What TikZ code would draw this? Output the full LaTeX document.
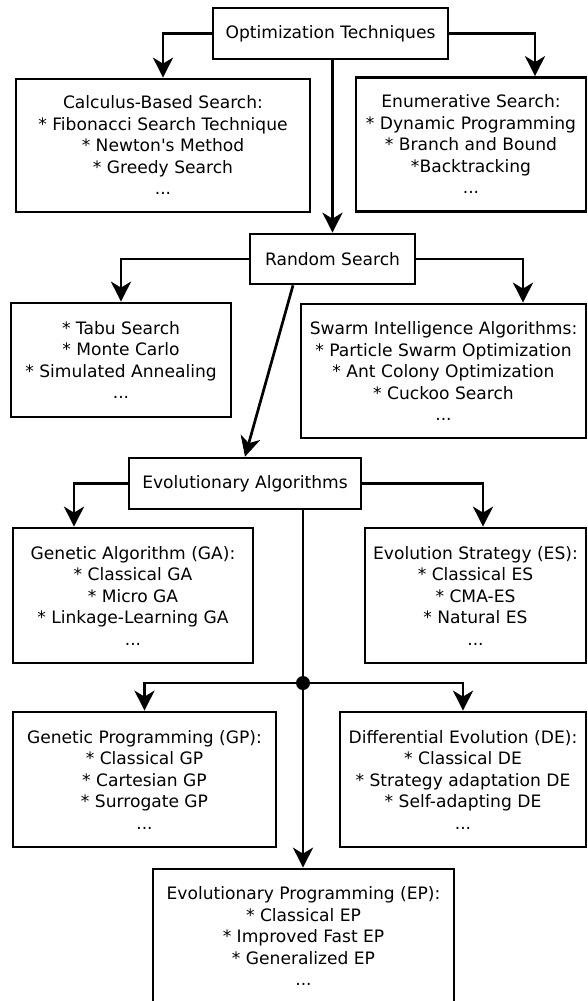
\documentclass[tikz,border=0pt]{standalone}
\usepackage{fontspec}
\setmainfont{DejaVu Sans}[Ligatures=TeXOff]
\usetikzlibrary{arrows.meta}
\begin{document}
\begin{tikzpicture}[x=1pt,y=-1pt]
	\tikzstyle{block node}=[draw,line width=2.7pt,inner sep=0,align=center,font=\fontsize{17.1}{21.5}\selectfont]
	\tikzstyle{dot node}=[circle,fill=black,inner sep=0,minimum size=14pt]
	\tikzset{
		link/.style={line width=2.7pt,-{Stealth[length=20pt,width=20pt,inset=6pt]}},
		joint/.style={line width=2.7pt}
	}
	\fill[white] (0,0) rectangle (587,1001);
	\useasboundingbox (0,0) rectangle (587,1001);
	% top level
	\node(opt)[block node,minimum width=235pt,minimum height=51pt] at (330.5,33.5)
		{Optimization Techniques};
	\node(calc)[block node,minimum width=294pt,minimum height=133pt] at (163,145.5)
		{Calculus-Based Search:\\* Fibonacci Search Technique\\* Newton's Method\\* Greedy Search\\...};
	\node(enum)[block node,minimum width=230pt,minimum height=134pt] at (471,144.5)
		{Enumerative Search:\\* Dynamic Programming\\* Branch and Bound\\*Backtracking\\...};
	% random search
	\node(rand)[block node,minimum width=165pt,minimum height=50pt] at (332.5,259)
		{Random Search};
	\node(tabu)[block node,minimum width=220pt,minimum height=114pt] at (121,360)
		{* Tabu Search\\* Monte Carlo\\* Simulated Annealing\\...};
	\node(swarm)[block node,minimum width=285pt,minimum height=134pt] at (443.5,371)
		{Swarm Intelligence Algorithms:\\* Particle Swarm Optimization\\* Ant Colony Optimization\\* Cuckoo Search\\...};
	% evolutionary algorithms
	\node(evo)[block node,minimum width=232pt,minimum height=51pt] at (245,483.5)
		{Evolutionary Algorithms};
	\node(ga)[block node,minimum width=240pt,minimum height=135pt] at (133,595.5)
		{Genetic Algorithm (GA):\\* Classical GA\\* Micro GA\\* Linkage-Learning GA\\...};
	\node(es)[block node,minimum width=221pt,minimum height=135pt] at (475.5,595.5)
		{Evolution Strategy (ES):\\* Classical ES\\* CMA-ES\\* Natural ES\\...};
	\node(fork)[dot node] at (303,683) {};
	\node(gp)[block node,minimum width=263pt,minimum height=135pt] at (144.5,779.5)
		{Genetic Programming (GP):\\* Classical GP\\* Cartesian GP\\* Surrogate GP\\...};
	\node(de)[block node,minimum width=246pt,minimum height=135pt] at (463,779.5)
		{Differential Evolution (DE):\\* Classical DE\\* Strategy adaptation DE\\* Self-adapting DE\\...};
	\node(ep)[block node,minimum width=301pt,minimum height=134pt] at (303.5,936)
		{Evolutionary Programming (EP):\\* Classical EP\\* Improved Fast EP\\* Generalized EP\\...};
	% connectors
	\draw[link] (opt.west) -| (calc.north);
	\draw[link] (opt.east) -| ([xshift=64pt]enum.north);
	\draw[link] (opt.south -| rand.north) -- (rand.north);
	\draw[link] (rand.west) -| (tabu.north);
	\draw[link] (rand.east) -| ([xshift=79.5pt]swarm.north);
	\draw[link] ([xshift=-39.5pt]rand.south) -- (evo.north);
	\draw[link] (evo.west) -| ([xshift=-59pt]ga.north);
	\draw[link] (evo.east) -| ([xshift=7.5pt]es.north);
	\draw[joint] (evo.south -| fork) -- (fork);
	\draw[link] (fork) -- (fork |- ep.north);
	\draw[link] (fork) -| (gp.north);
	\draw[link] (fork) -| (de.north);
\end{tikzpicture}
\end{document}
